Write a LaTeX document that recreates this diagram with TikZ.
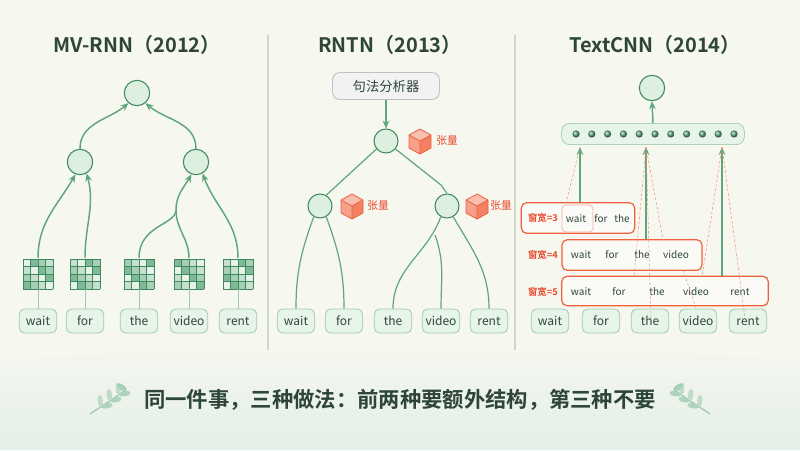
\documentclass[tikz,border=0pt]{standalone}
\usepackage{fontspec}
\setmainfont{Noto Sans CJK SC}[BoldFont={Noto Sans CJK SC Bold}]
\usetikzlibrary{calc,arrows.meta}
\definecolor{bgcream}{HTML}{F6F7EF}
\definecolor{nodefill}{HTML}{DDF0DF}
\definecolor{nodeline}{HTML}{3E8A5C}
\definecolor{edge}{HTML}{5FA77A}
\definecolor{titlecol}{HTML}{2E4638}
\definecolor{redline}{HTML}{F0603C}
\definecolor{redtext}{HTML}{E8472A}
\definecolor{sepcol}{HTML}{CFD8C8}
\tikzset{
  neuron/.style={circle, draw=nodeline, fill=nodefill, line width=0.8pt, minimum size=19pt, inner sep=0pt},
  word/.style={rounded corners=4pt, draw=edge!60, fill=nodefill!70, line width=0.6pt, minimum width=28pt, minimum height=18pt, inner sep=1pt, font=\fontsize{9}{10}\selectfont, text=titlecol},
  up/.style={draw=edge, line width=1.1pt, -{Stealth[length=6pt,width=5pt]}},
  link/.style={draw=edge, line width=1.1pt},
  window/.style={draw=redline, line width=0.9pt, rounded corners=4pt, fill=white, fill opacity=0.5, text opacity=1},
  wlabel/.style={text=redtext, font=\bfseries\fontsize{7}{8}\selectfont},
  title/.style={font=\bfseries\fontsize{15}{16}\selectfont, text=titlecol},
  guide/.style={draw=redline!70, dashed, line width=0.4pt, dash pattern=on 2pt off 1.5pt},
  pics/wordmat/.style={code={
    \foreach \i in {0,...,3}{\foreach \j in {0,...,3}{
      \pgfmathtruncatemacro{\k}{mod(\i*3+\j*5+#1,4)}
      \ifcase\k \def\sh{15}\or\def\sh{35}\or\def\sh{55}\or\def\sh{80}\fi
      \fill[edge!\sh] (-15+\i*7.5,-15+\j*7.5) rectangle ++(7.5,7.5);}}
    \foreach \t in {0,...,4}{
      \draw[nodeline, line width=0.5pt] (-15+\t*7.5,-15) -- ++(0,30);
      \draw[nodeline, line width=0.5pt] (-15,-15+\t*7.5) -- ++(30,0);}
  }},
  pics/tensor/.style={code={
    \fill[redline!40] (0,0) -- (-11,-6) -- (0,-12) -- (11,-6) -- cycle;
    \fill[redline!60] (0,0) -- (-11,-6) -- (-11,7) -- (0,13) -- cycle;
    \fill[redline!80] (0,0) -- (11,-6) -- (11,7) -- (0,13) -- cycle;
    \draw[redline, line width=0.6pt, line join=round] (0,-12) -- (11,-6) -- (11,7) -- (0,13) -- (-11,7) -- (-11,-6) -- cycle (-11,-6) -- (0,0) -- (11,-6) (0,0) -- (0,13);
  }},
  pics/sprig/.style={code={
    \draw[edge!70, line width=0.8pt] (0,0) -- (#1*36,-24);
    \foreach \p in {0.3,0.55,0.8}{
      \fill[edge!50, shift={(#1*36*\p,-24*\p)}, rotate=#1*100] (0,6) ellipse (2.6 and 6);
      \fill[edge!40, shift={(#1*36*\p,-24*\p)}, rotate=#1*5] (0,-6) ellipse (2.6 and 6);}
    \fill[edge!55, shift={(#1*36,-24)}, rotate=#1*56] (0,-5) ellipse (2.6 and 6);
  }}
}
\begin{document}
\begin{tikzpicture}[x=0.75pt,y=-0.75pt]
\useasboundingbox (0,0) rectangle (800,450);
\fill[bgcream] (0,0) rectangle (800,450);
\shade[top color=bgcream, bottom color=edge!18] (0,360) .. controls (250,345) and (550,345) .. (800,360) -- (800,450) -- (0,450) -- cycle;

% titles and separators
\node[title] (t1) at (137,45) {MV-RNN（2012）};
\node[title] (t2) at (390,45) {RNTN（2013）};
\node[title] (t3) at (655,45) {TextCNN（2014）};
\draw[sepcol, line width=1pt] (268,35) -- (268,350);
\draw[sepcol, line width=1pt] (515,35) -- (515,350);

% MV-RNN
\node[neuron] (r1) at (137,93) {};
\node[neuron] (a1) at (80,162) {};
\node[neuron] (b1) at (196,162) {};
\foreach \w/\x/\s [count=\n] in {wait/38/0,for/85/1,the/139/2,video/189/3,rent/238/1}{
  \node[word] (w\n) at (\x,321) {\w};
  \pic at (\x,274) {wordmat=\s};
  \coordinate (m\n) at (\x,258);
  \draw[edge!60, line width=0.6pt] (w\n.north) -- (\x,289);
}
\draw[up] (m1) to[out=90,in=-120] (a1.-110);
\draw[up] (m2) to[out=90,in=-75] (a1.-60);
\draw[up] (m3) .. controls (139,225) and (176,225) .. (176,210) to[out=90,in=-120] (b1.-110);
\draw[link] (m4) to[out=90,in=-90] (176,210);
\draw[up] (m5) to[out=90,in=-70] (b1.-60);
\draw[up] (a1.north) to[out=90,in=-140] (r1.-130);
\draw[up] (b1.north) to[out=90,in=-40] (r1.-50);

% RNTN
\node[draw=gray!70, fill=gray!10, rounded corners=5pt, minimum width=80pt, minimum height=20pt, font=\fontsize{10}{11}\selectfont, text=titlecol] (parser) at (386,86) {句法分析器};
\node[neuron, minimum size=18pt] (r2) at (386,141) {};
\node[neuron, minimum size=18pt] (a2) at (320,206) {};
\node[neuron, minimum size=18pt] (b2) at (447,206) {};
\draw[up] (parser.south) -- (r2.north);
\foreach \x/\y/\lx in {420/141/447,352/206/378,477/206/501}{
  \pic at (\x,\y) {tensor};
  \node[text=redtext, font=\fontsize{8}{9}\selectfont] at (\lx,\y) {张量};
}
\foreach \w/\x [count=\n] in {wait/296,for/344,the/393,video/441,rent/489}
  \node[word] (v\n) at (\x,321) {\w};
\draw[link, line width=0.9pt] (r2.-140) -- (a2.60);
\draw[link, line width=0.9pt] (r2.-40) -- (441,185) -- (b2.90);
\draw[link, line width=0.9pt] (a2.-120) to[out=-110,in=90] (v1.north);
\draw[link, line width=0.9pt] (a2.-60) to[out=-70,in=90] (v2.north);
\draw[link, line width=0.9pt] (b2.-120) to[out=-110,in=90] (v3.north);
\draw[link, line width=0.9pt] (435,235) to[out=-70,in=90] (v4.north);
\draw[link, line width=0.9pt] (b2.-60) to[out=-60,in=90] (v5.north);

% TextCNN
\node[neuron] (r3) at (652,88) {};
\node[draw=edge!70, fill=nodefill!70, rounded corners=6pt, minimum width=137pt, minimum height=16pt, inner sep=0pt] (pool) at (653,134) {};
\foreach \d in {0,...,10}
  \shade[ball color=edge] (576+\d*15.8,134) circle (3.6);
\draw[up] (pool.north) -- (r3.south);
\foreach \w/\x [count=\n] in {wait/550,for/601,the/650,video/698,rent/748}
  \node[word] (u\n) at (\x,321) {\w};
\node[window, minimum width=85pt, minimum height=23pt] (k3) at (578,218) {};
\node[window, minimum width=105pt, minimum height=23pt] (k4) at (632,255) {};
\node[window, minimum width=155pt, minimum height=22pt] (k5) at (665,291) {};
\node[wlabel] at (543,218) {窗宽=3};
\node[wlabel] at (543,255) {窗宽=4};
\node[wlabel] at (543,292) {窗宽=5};
\draw[redline!50, rounded corners=3pt, line width=0.5pt] (562,205) rectangle (593,232);
\foreach \w/\x in {wait/576,for/601,the/622}
  \node[font=\fontsize{7.5}{8}\selectfont, text=titlecol] at (\x,219) {\w};
\foreach \w/\x in {wait/581,for/612,the/642,video/676}
  \node[font=\fontsize{7.5}{8}\selectfont, text=titlecol] at (\x,255) {\w};
\foreach \w/\x in {wait/581,for/619,the/657,video/696,rent/740}
  \node[font=\fontsize{7.5}{8}\selectfont, text=titlecol] at (\x,292) {\w};
\draw[up] (k3.north -| 580,0) -- (580,147);
\draw[up] (k4.north -| 646,0) -- (646,147);
\draw[up] (k5.north -| 722,0) -- (722,147);
\draw[guide] (580,147) -- (566,203);
\draw[guide] (646,147) -- (634,277);
\draw[guide] (646,147) -- (651,318);
\draw[guide] (646,147) -- (663,240);
\draw[guide] (722,147) -- (745,318);
\draw[guide] (722,147) -- (702,277);
\draw[guide] (696,308) -- (683,270);

% summary
\node[font=\bfseries\fontsize{16}{18}\selectfont, text=titlecol] (sum) at (400,400) {同一件事，三种做法：前两种要额外结构，第三种不要};
\pic at (90,414) {sprig=1};
\pic at (710,414) {sprig=-1};
\end{tikzpicture}
\end{document}
